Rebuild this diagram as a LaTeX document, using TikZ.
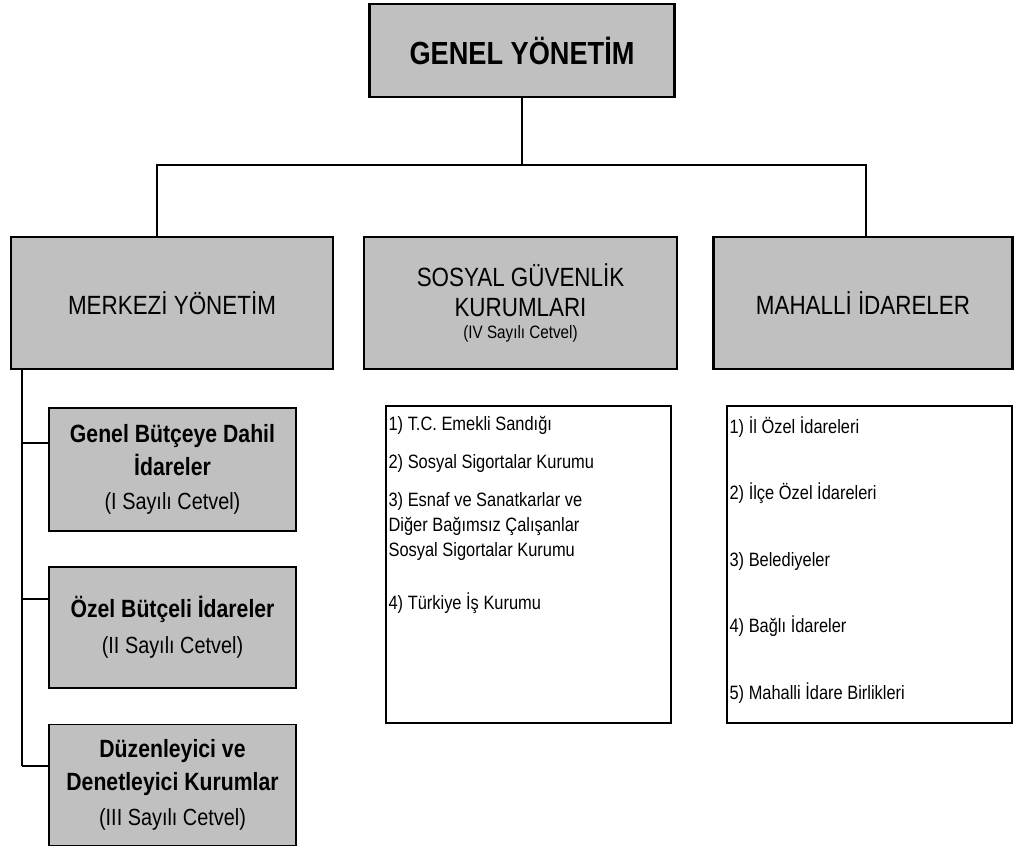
\documentclass[tikz,border=0pt]{standalone}
\usepackage{fontspec}
\setmainfont[FakeStretch=0.85]{Liberation Sans}
\usetikzlibrary{calc}
\definecolor{kutu}{HTML}{C0C0C0}
\newcommand{\ustyazi}{\fontsize{18.2pt}{22pt}\bfseries\selectfont}
\newcommand{\ortayazi}{\fontsize{15pt}{17pt}\selectfont}
\newcommand{\kucukyazi}{\fontsize{10.2pt}{12pt}\selectfont}
\newcommand{\altyazi}{\fontsize{14.2pt}{18.7pt}\bfseries\selectfont}
\newcommand{\parenyazi}{\fontsize{13.3pt}{18.7pt}\mdseries\selectfont}
\newcommand{\listeyazi}{\fontsize{11pt}{14.2pt}\selectfont}

\begin{document}
\begin{tikzpicture}[x=0.02cm,y=-0.02cm,
    anakutu/.style={draw,line width=1.5pt,fill=kutu,inner sep=0pt,align=center},
    altkutu/.style={draw,line width=1.1pt,fill=kutu,inner sep=0pt,align=center,
      minimum width=4.94cm,font=\altyazi},
    liste/.style={draw,line width=0.9pt,inner sep=0pt},
    listemetin/.style={anchor=north west,inner sep=0pt,align=left,font=\listeyazi},
    baglanti/.style={line width=1.2pt},
    ince/.style={line width=0.7pt}]
    \useasboundingbox (0,0) rectangle (1016,848);

    \node[anakutu,minimum width=6.1cm,minimum height=1.86cm,font=\ustyazi] (genel) at (522,50.5) {GENEL YÖNETİM};

    \node[anakutu,minimum width=6.44cm,minimum height=2.64cm,font=\ortayazi] (merkezi) at (172,303) {MERKEZİ YÖNETİM};
    \node[anakutu,minimum width=6.26cm,minimum height=2.64cm,font=\ortayazi] (sosyal) at (520.5,303) {SOSYAL GÜVENLİK\\KURUMLARI\\[-4.8pt]\kucukyazi (IV Sayılı Cetvel)};
    \node[anakutu,minimum width=5.98cm,minimum height=2.64cm,font=\ortayazi] (mahalli) at (863,303) {MAHALLİ İDARELER};

    % merkezi yonetim altindaki kutular
    \node[altkutu,minimum height=2.46cm] (butce) at (172.5,469.5) {Genel Bütçeye Dahil\\İdareler\\[1pt]\parenyazi (I Sayılı Cetvel)};
    \node[altkutu,minimum height=2.42cm] (ozel) at (172.5,627.5) {Özel Bütçeli İdareler\\[2pt]\parenyazi (II Sayılı Cetvel)};
    \node[altkutu,minimum height=2.42cm] (duzen) at (172.5,785) {Düzenleyici ve\\Denetleyici Kurumlar\\[1pt]\parenyazi (III Sayılı Cetvel)};

    % listeler
    \node[liste,minimum width=5.7cm,minimum height=6.34cm] (sglist) at (528.5,564.5) {};
    \node[listemetin] (sgmetin) at ($(sglist.north west)+(3,11)$) {1) T.C. Emekli Sandığı\\[7.4pt]
      2) Sosyal Sigortalar Kurumu\\[7.4pt]
      3) Esnaf ve Sanatkarlar ve\\Diğer Bağımsız Çalışanlar\\Sosyal Sigortalar Kurumu\\[15.6pt]
      4) Türkiye İş Kurumu};
    \node[liste,minimum width=5.7cm,minimum height=6.34cm] (mhlist) at (869.5,564.5) {};
    \node[listemetin] (mhmetin) at ($(mhlist.north west)+(3,11)$) {1) İl Özel İdareleri\\[23.6pt]
      2) İlçe Özel İdareleri\\[23.6pt]
      3) Belediyeler\\[23.6pt]
      4) Bağlı İdareler\\[23.6pt]
      5) Mahalli İdare Birlikleri};

    \coordinate (catal) at (522,165);
    \coordinate (sol) at (157,165);
    \coordinate (sag) at (866,165);
    \draw[baglanti] (genel.south) -- (catal);
    \draw[baglanti] (sol |- merkezi.north) -- (sol) -- (sag) -- (sag |- mahalli.north);

    \coordinate (omurga) at (22,369);
    \coordinate (k1) at (22,443);
    \coordinate (k2) at (22,599);
    \coordinate (k3) at (22,766);
    \draw[ince] (omurga |- merkezi.south) -- (k3);
    \draw[ince] (k1) -- (k1 -| butce.west);
    \draw[ince] (k2) -- (k2 -| ozel.west);
    \draw[ince] (k3) -- (k3 -| duzen.west);
  \end{tikzpicture}
\end{document}
